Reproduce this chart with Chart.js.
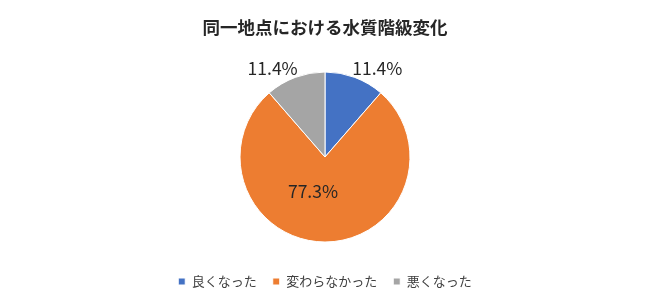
<!DOCTYPE html>
<html lang="ja">
<head>
<meta charset="utf-8">
<script src="https://cdn.jsdelivr.net/npm/chart.js@4"></script>
<style>
    html, body { margin: 0; padding: 0; background: #fff; }
    #contenedor { width: 650px; height: 306px; }
</style>
</head>
<body>
<div id="contenedor"><canvas id="grafico"></canvas></div>
<script>
const titulo = '同一地点における水質階級変化';
const categorias = ['良くなった', '変わらなかった', '悪くなった'];
const porcentajes = [11.4, 77.3, 11.4];
const colores = ['#4472C4', '#ED7D31', '#A5A5A5'];

const fuente = '"Noto Sans CJK JP", "Noto Sans", sans-serif';

// etiquetas de porcentaje: fuera para sectores pequeños, dentro para el grande
const etiquetas = {
    id: 'etiquetas',
    afterDatasetsDraw(chart) {
        const ctx = chart.ctx;
        const meta = chart.getDatasetMeta(0);
        ctx.save();
        ctx.font = '17.5px ' + fuente;
        ctx.fillStyle = '#262626';
        ctx.textBaseline = 'middle';
        meta.data.forEach((arco, i) => {
            const p = arco.getProps(['x', 'y', 'startAngle', 'endAngle', 'outerRadius']);
            const medio = (p.startAngle + p.endAngle) / 2;
            const frac = (p.endAngle - p.startAngle) / (2 * Math.PI);
            const texto = porcentajes[i].toFixed(1) + '%';
            if (frac > 0.3) {
                const r = p.outerRadius * 0.4;
                ctx.textAlign = 'center';
                ctx.fillText(texto, p.x + Math.cos(medio) * r - 12, p.y + Math.sin(medio) * r);
            } else {
                const r = p.outerRadius + 10;
                const derecha = Math.cos(medio) >= 0;
                ctx.textAlign = derecha ? 'left' : 'right';
                ctx.fillText(texto,
                    p.x + Math.cos(medio) * r + (derecha ? -6 : 6),
                    p.y + Math.sin(medio) * r);
            }
        });
        ctx.restore();
    }
};

window.onload = function () {
    const ctx = document.getElementById('grafico').getContext('2d');

    new Chart(ctx, {
        type: 'pie',
        data: {
            labels: categorias,
            datasets: [{
                data: porcentajes,
                backgroundColor: colores,
                borderColor: '#ffffff',
                borderWidth: 1,
                radius: 85
            }]
        },
        options: {
            responsive: true,
            maintainAspectRatio: false,
            animation: false,
            layout: { padding: { bottom: 8 } },
            plugins: {
                title: {
                    display: true,
                    text: titulo,
                    color: '#262626',
                    font: { family: fuente, size: 17.5, weight: 'bold' },
                    padding: { top: 17, bottom: 17 }
                },
                legend: {
                    position: 'bottom',
                    labels: {
                        boxWidth: 7,
                        boxHeight: 7,
                        color: '#404040',
                        font: { family: fuente, size: 13 },
                        padding: 16
                    }
                },
                tooltip: { enabled: false }
            }
        },
        plugins: [etiquetas]
    });
};
</script>
</body>
</html>
